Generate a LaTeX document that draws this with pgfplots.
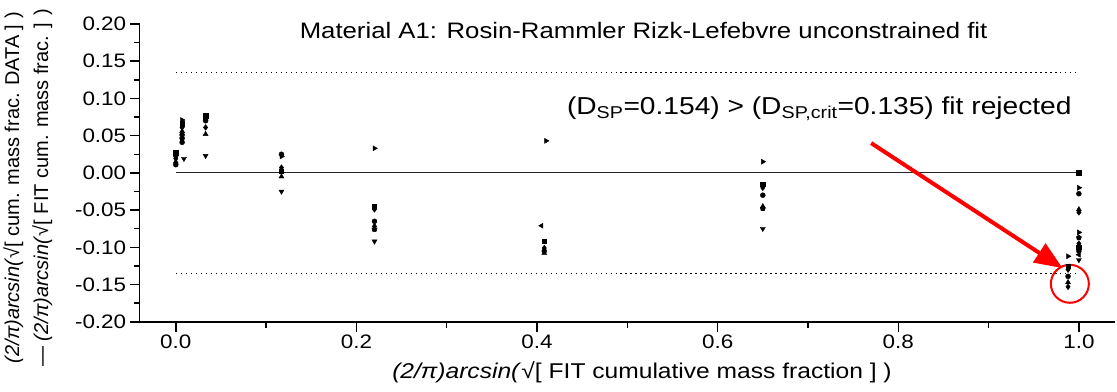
\documentclass[border=0pt]{standalone}
\usepackage{pgfplots}
\pgfplotsset{compat=1.18}
\usepackage{fontspec}
\setmainfont[FakeStretch=1.15]{Liberation Sans}
\newfontfamily\ylabfont{Liberation Sans}
\usetikzlibrary{arrows.meta}

\pgfplotstableread{
x y
0.000 0.023
0.000 0.011
0.007 0.051
0.007 0.041
0.033 0.070
0.117 0.025
0.220 -0.065
0.408 -0.105
0.650 -0.030
1.000 0.000
1.000 -0.028
1.000 -0.105
0.988 -0.139
}\circdata
\pgfplotstableread{
x y
0.000 0.027
0.007 0.066
0.033 0.077
0.117 0.002
0.220 -0.045
0.408 -0.092
0.650 -0.015
1.000 0.000
1.000 -0.100
0.988 -0.125
}\sqdata
\pgfplotstableread{
x y
0.000 0.019
0.007 0.061
0.033 0.061
0.117 0.007
0.220 -0.049
0.408 -0.101
0.650 -0.020
1.000 -0.053
1.000 -0.095
0.988 -0.130
0.988 -0.153
}\diadata
\pgfplotstableread{
x y
0.000 0.015
0.007 0.056
0.033 0.073
0.033 0.052
0.117 -0.005
0.220 -0.071
0.408 -0.108
0.650 -0.045
1.000 -0.049
0.988 -0.147
}\updata
\pgfplotstableread{
x y
0.009 0.019
0.033 0.023
0.117 -0.025
0.220 -0.092
0.650 -0.075
1.000 -0.117
}\downdata
\pgfplotstableread{
x y
0.405 -0.071
1.000 -0.110
}\leftdata
\pgfplotstableread{
x y
0.007 0.071
0.117 0.022
0.220 0.033
0.410 0.043
0.650 0.015
1.000 -0.020
1.000 -0.080
0.988 -0.112
}\rightdata
\pgfplotstableread{
x y
0.007 0.046
0.220 -0.076
0.650 -0.048
1.000 -0.087
}\pentdata

\begin{document}
\begin{tikzpicture}
\begin{axis}[
  width=976pt, height=298pt, scale only axis,
  xmin=-0.04, xmax=1.04, ymin=-0.2, ymax=0.2,
  axis x line*=bottom, axis y line*=left,
  axis line style={-, line width=1.5pt, black},
  xtick={0,0.2,0.4,0.6,0.8,1.0},
  minor xtick={0.1,0.3,0.5,0.7,0.9},
  ytick={-0.2,-0.15,-0.1,-0.05,0,0.05,0.1,0.15,0.2},
  minor ytick={-0.175,-0.125,-0.075,-0.025,0.025,0.075,0.125,0.175},
  tick align=outside,
  major tick length=10pt, minor tick length=6pt,
  every tick/.style={black, line width=1.5pt},
  xticklabel style={/pgf/number format/.cd, fixed, fixed zerofill, precision=1, assume math mode=true},
  yticklabel style={/pgf/number format/.cd, fixed, fixed zerofill, precision=2, assume math mode=true},
  ticklabel style={font=\fontsize{19.5}{22}\selectfont},
  xlabel={\textit{(2/π)arcsin(}√[ FIT cumulative mass fraction ] )},
  every axis x label/.style={at={(axis description cs:0.515,-0.168)}, anchor=center, font=\fontsize{21.4}{24}\selectfont},
  ylabel={\textit{(2/π)arcsin(}√[ cum. mass frac. DATA ] )\\— \textit{(2/π)arcsin(}√[ FIT cum. mass frac. ] )},
  every axis y label/.style={at={(axis description cs:-0.086,0.45)}, rotate=90, anchor=south, align=center, font=\ylabfont\fontsize{20}{29}\selectfont},
  clip=false,
  mk/.style={only marks, black, mark size=2.5pt, mark options={fill=black, draw=black, solid}},
]
\addplot[black!85, line width=0.9pt] coordinates {(0,0) (1,0)};
\addplot[black, line width=1.1pt, dash pattern=on 1.3pt off 3.7pt] coordinates {(0,0.135) (1,0.135)};
\addplot[black, line width=1.1pt, dash pattern=on 1.3pt off 3.7pt] coordinates {(0,-0.135) (1,-0.135)};

\addplot[mk, mark=*] table {\circdata};
\addplot[mk, mark=square*, mark size=2.2pt] table {\sqdata};
\addplot[mk, mark=diamond*, mark size=2.9pt] table {\diadata};
\addplot[mk, mark=triangle*, mark size=2.9pt] table {\updata};
\addplot[mk, mark=triangle*, mark size=2.9pt, mark options={rotate=180}] table {\downdata};
\addplot[mk, mark=triangle*, mark size=2.9pt, mark options={rotate=90}] table {\leftdata};
\addplot[mk, mark=triangle*, mark size=2.9pt, mark options={rotate=-90}] table {\rightdata};
\addplot[mk, mark=pentagon*, mark size=2.7pt] table {\pentdata};

\node[font=\fontsize{22.4}{26}\selectfont] at (axis cs:0.518,0.191) {Material A1: Rosin-Rammler Rizk-Lefebvre unconstrained fit};
\node[anchor=base west, font=\fontsize{24.5}{30}\selectfont, inner sep=0pt] at (axis cs:0.433,0.078)
  {(D\textsubscript{SP}=0.154) > (D\textsubscript{SP,crit}=0.135) fit rejected};
\draw[red, line width=4pt, -{Triangle[length=28pt,width=22pt]}] (axis cs:0.77,0.04) -- (axis cs:0.982,-0.128);
\draw[red, line width=2pt] (axis cs:0.99,-0.149) circle[radius=19pt];

\path (axis description cs:0,0) ++(-139pt,-70pt);
\path (axis description cs:1,1) ++(2pt,24pt);
\end{axis}
\end{tikzpicture}
\end{document}
